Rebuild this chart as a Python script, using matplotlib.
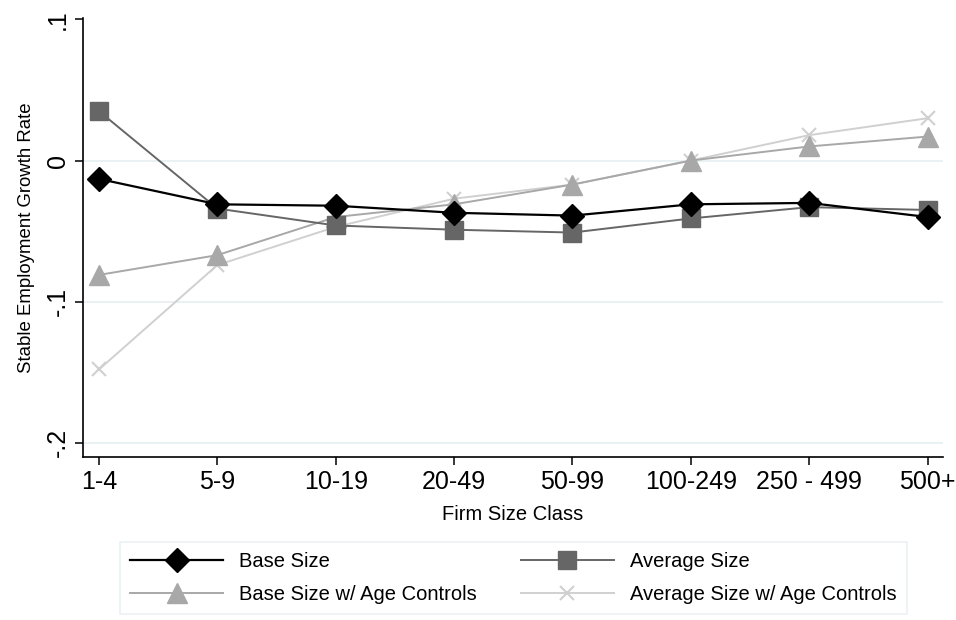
import numpy as np
import matplotlib
matplotlib.use("Agg")
import matplotlib.pyplot as plt

plt.rcParams['font.family'] = ['Liberation Sans', 'DejaVu Sans']

size_classes = ['1-4', '5-9', '10-19', '20-49', '50-99', '100-249', '250 - 499', '500+']
base_size = [-0.013, -0.031, -0.032, -0.037, -0.039, -0.031, -0.030, -0.040]
avg_size = [0.035, -0.034, -0.046, -0.049, -0.051, -0.041, -0.033, -0.035]
base_age = [-0.081, -0.067, -0.040, -0.031, -0.017, 0.000, 0.010, 0.017]
avg_age = [-0.148, -0.074, -0.047, -0.027, -0.017, 0.000, 0.018, 0.030]

yticks = [-0.2, -0.1, 0, 0.1]
ytick_labels = ['-.2', '-.1', '0', '.1']

fig = plt.figure(figsize=(9.56, 6.2), dpi=100)
ax = fig.add_axes([0.0868, 0.2629, 0.8996, 0.7081])
x = np.arange(len(size_classes))

l1, = ax.plot(x, base_size, color='black', lw=1.6, marker='D', ms=12, mec='black', label='Base Size', zorder=5)
l2, = ax.plot(x, avg_size, color='#666666', lw=1.4, marker='s', ms=13, mec='#666666', label='Average Size', zorder=4)
l3, = ax.plot(x, base_age, color='#a8a8a8', lw=1.4, marker='^', ms=15, mec='#a8a8a8', label='Base Size w/ Age Controls', zorder=3)
l4, = ax.plot(x, avg_age, color='#d0d0d0', lw=1.4, marker='x', ms=10, mew=1.5, label='Average Size w/ Age Controls', zorder=2)

ax.set_xlim(-0.135, 7.13)
ax.set_ylim(-0.21, 0.101)
ax.set_xticks(x)
ax.set_xticklabels(size_classes, fontsize=18)
ax.set_yticks(yticks)
ax.set_yticklabels(ytick_labels, fontsize=18, rotation=90, va='center')
ax.grid(axis='y', color='#e6eff1', lw=1.2)
ax.yaxis.get_gridlines()[-1].set_visible(False)
ax.set_axisbelow(True)
for s in ['top', 'right']:
    ax.spines[s].set_visible(False)
for s in ['left', 'bottom']:
    ax.spines[s].set_linewidth(1.2)
ax.tick_params(length=6, width=1.1)
ax.set_xlabel('Firm Size Class', fontsize=14.5, labelpad=8)
ax.set_ylabel('Stable Employment Growth Rate', fontsize=13.4, labelpad=8)

# column-major order so rows read Base/Average
handles = [l1, l3, l2, l4]
leg = fig.legend(handles=handles, labels=[h.get_label() for h in handles],
                 loc='center', bbox_to_anchor=(0.537, 0.068), ncol=2, fontsize=14.5,
                 handlelength=4.6, columnspacing=2.2, handletextpad=0.8, labelspacing=0.7,
                 frameon=True, fancybox=False, borderpad=0.5)
leg.get_frame().set_edgecolor('#e6eff1')
leg.get_frame().set_linewidth(1.2)

fig.savefig('out.png', dpi=100)
